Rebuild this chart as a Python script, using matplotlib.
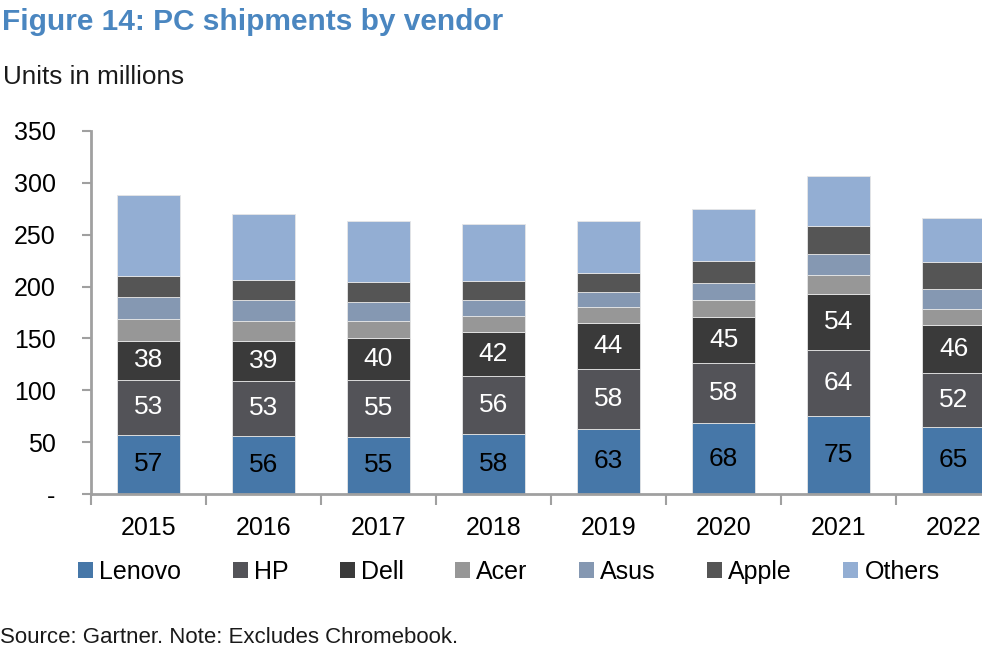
import matplotlib
matplotlib.use("Agg")
import matplotlib.pyplot as plt
import numpy as np

plt.rcParams['font.family'] = ['Liberation Sans', 'DejaVu Sans']

years = ["2015", "2016", "2017", "2018", "2019", "2020", "2021", "2022"]
vendors = ["Lenovo", "HP", "Dell", "Acer", "Asus", "Apple", "Others"]
lenovo = [57, 56, 55, 58, 63, 68, 75, 65]
hp = [53, 53, 55, 56, 58, 58, 64, 52]
dell = [38, 39, 40, 42, 44, 45, 54, 46]
acer = [21, 19, 17, 16, 15, 16, 18, 15]
asus = [21, 20, 18, 15, 15, 16, 20, 20]
apple = [20, 19, 19, 18, 18, 22, 27, 26]
others = [78, 64, 59, 55, 50, 50, 49, 42]
yticks = [0, 50, 100, 150, 200, 250, 300, 350]
ytick_labels = ["-", "50", "100", "150", "200", "250", "300", "350"]

series = [lenovo, hp, dell, acer, asus, apple, others]
colors = ["#4677A8", "#535358", "#3A3A3A", "#979797", "#8598B2", "#555555", "#93AED3"]
label_series = {0: "black", 1: "white", 2: "white"}

W, H = 982, 655
fig = plt.figure(figsize=(W / 100, H / 100), dpi=100)
ax = fig.add_axes([91 / W, 161 / H, 920 / W, 363 / H])

x = np.arange(len(years))
bottom = np.zeros(len(years))
handles = []
for i, (vals, col, name) in enumerate(zip(series, colors, vendors)):
    v = np.array(vals, dtype=float)
    b = ax.bar(x, v, 0.55, bottom=bottom, color=col, edgecolor="#E6E6E6",
               linewidth=0.6, label=name, zorder=2)
    handles.append(b)
    if i in label_series:
        for xi, bi, vi in zip(x, bottom, v):
            ax.text(xi, bi + vi / 2, f"{int(vi)}", ha="center", va="center",
                    fontsize=19, color=label_series[i], zorder=3)
    bottom += v

ax.set_xlim(-0.5, 7.5)
ax.set_ylim(0, 350)
ax.set_yticks(yticks)
ax.set_yticklabels(ytick_labels, fontsize=18)
ax.set_xticks(np.arange(-0.5, 8, 1))
ax.set_xticklabels([])
ax.set_xticks(x, minor=True)
ax.set_xticklabels(years, minor=True, fontsize=18)
ax.tick_params(axis="x", which="minor", length=0, pad=16)
ax.tick_params(axis="x", which="major", length=8, width=1.5, color="#A0A0A0", direction="out")
ax.tick_params(axis="y", length=6.5, width=1.5, color="#A0A0A0", direction="out", pad=19)
for s in ["top", "right"]:
    ax.spines[s].set_visible(False)
for s in ["left", "bottom"]:
    ax.spines[s].set_color("#A0A0A0")
    ax.spines[s].set_linewidth(2)

fig.text(2 / W, 1 - 30 / H, "Figure 14: PC shipments by vendor", fontsize=21.5,
         fontweight="bold", color="#4A86C0", ha="left", va="baseline")
fig.text(3 / W, 1 - 84 / H, "Units in millions", fontsize=18.8, color="#1A1A1A",
         ha="left", va="baseline")
fig.text(0 / W, 1 - 643 / H, "Source: Gartner. Note: Excludes Chromebook.", fontsize=16,
         color="#1A1A1A", ha="left", va="baseline")

leg = fig.legend(handles=handles, labels=vendors, loc="center left",
                 bbox_to_anchor=(78 / W, 1 - 572 / H), ncol=7, frameon=False,
                 fontsize=18, handlelength=0.6, handleheight=0.6, handletextpad=0.25,
                 columnspacing=2.05, borderaxespad=0, borderpad=0)
for h in leg.legend_handles:
    h.set_edgecolor("none")

fig.savefig("out.png", dpi=100)
